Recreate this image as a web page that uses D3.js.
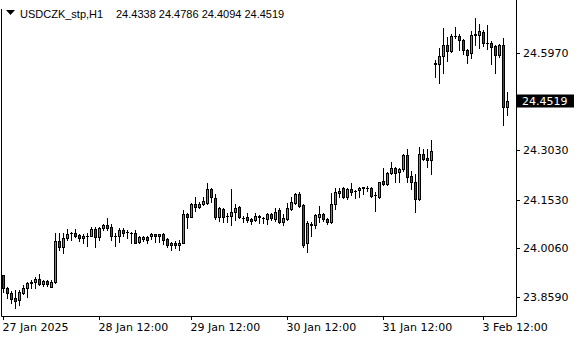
<!DOCTYPE html>
<html>
<head>
<meta charset="utf-8">
<script src="https://cdn.jsdelivr.net/npm/d3@7"></script>
<style>
  body { margin: 0; background: #fff; }
  svg { display: block; }
  text { font-family: "DejaVu Sans"; font-size: 11px; fill: #000; }
  text.header { font-family: "Liberation Sans"; font-size: 11px; }
</style>
</head>
<body>
<svg id="chart" width="580" height="340"></svg>
<script>
/*********************
 * Data (USDCZK H1 bars)
 *********************/
const symbol = 'USDCZK_stp,H1';

const opens = [
  23.926, 23.885, 23.872, 23.857, 23.849, 23.872, 23.885, 23.900, 23.903, 23.913,
  23.897, 23.907, 23.888, 23.904, 24.028, 24.011, 24.037, 24.052, 24.052, 24.047,
  24.037, 24.044, 24.044, 24.064, 24.040, 24.067, 24.077, 24.070, 24.044, 24.044,
  24.062, 24.055, 24.054, 24.054, 24.024, 24.034, 24.040, 24.042, 24.050, 24.042,
  24.050, 24.034, 24.017, 24.023, 24.015, 24.021, 24.110, 24.102, 24.140, 24.132,
  24.139, 24.144, 24.186, 24.158, 24.102, 24.124, 24.105, 24.105, 24.117, 24.132,
  24.097, 24.100, 24.094, 24.092, 24.100, 24.097, 24.094, 24.110, 24.095, 24.122,
  24.087, 24.094, 24.125, 24.144, 24.171, 24.137, 24.021, 24.077, 24.077, 24.102,
  24.109, 24.095, 24.085, 24.139, 24.173, 24.190, 24.162, 24.186, 24.180, 24.182,
  24.188, 24.190, 24.190, 24.168, 24.162, 24.210, 24.200, 24.233, 24.248, 24.236,
  24.245, 24.289, 24.225, 24.207, 24.155, 24.291, 24.280, 24.272, 24.563, 24.565,
  24.587, 24.620, 24.602, 24.648, 24.648, 24.636, 24.605, 24.598, 24.651, 24.651,
  24.661, 24.626, 24.627, 24.618, 24.592, 24.620, 24.4338
];
const highs = [
  23.926, 23.890, 23.878, 23.880, 23.880, 23.895, 23.905, 23.910, 23.920, 23.929,
  23.910, 23.910, 23.910, 24.052, 24.052, 24.052, 24.064, 24.057, 24.064, 24.050,
  24.050, 24.054, 24.072, 24.070, 24.070, 24.080, 24.097, 24.080, 24.052, 24.067,
  24.067, 24.062, 24.057, 24.062, 24.042, 24.044, 24.042, 24.052, 24.050, 24.050,
  24.052, 24.037, 24.026, 24.029, 24.031, 24.122, 24.112, 24.142, 24.161, 24.147,
  24.162, 24.203, 24.188, 24.171, 24.132, 24.127, 24.112, 24.186, 24.140, 24.134,
  24.105, 24.112, 24.098, 24.112, 24.107, 24.102, 24.112, 24.114, 24.127, 24.127,
  24.109, 24.144, 24.162, 24.173, 24.176, 24.140, 24.089, 24.085, 24.109, 24.134,
  24.112, 24.097, 24.173, 24.190, 24.190, 24.193, 24.190, 24.203, 24.182, 24.193,
  24.193, 24.196, 24.192, 24.176, 24.208, 24.250, 24.236, 24.266, 24.253, 24.248,
  24.292, 24.307, 24.240, 24.230, 24.313, 24.306, 24.308, 24.333, 24.575, 24.612,
  24.673, 24.646, 24.653, 24.676, 24.653, 24.639, 24.610, 24.663, 24.703, 24.684,
  24.666, 24.681, 24.633, 24.620, 24.625, 24.643, 24.4786
];
const lows = [
  23.875, 23.855, 23.840, 23.825, 23.835, 23.868, 23.860, 23.887, 23.887, 23.895,
  23.892, 23.893, 23.888, 23.900, 24.001, 23.991, 24.031, 24.031, 24.040, 24.029,
  24.021, 24.013, 24.042, 24.011, 24.031, 24.062, 24.062, 24.031, 24.013, 24.026,
  24.042, 24.037, 24.021, 24.021, 24.023, 24.028, 24.023, 24.034, 24.026, 24.026,
  24.019, 24.011, 24.001, 24.006, 24.001, 24.021, 24.067, 24.102, 24.120, 24.127,
  24.136, 24.140, 24.147, 24.094, 24.090, 24.087, 24.087, 24.077, 24.092, 24.097,
  24.087, 24.087, 24.079, 24.089, 24.084, 24.082, 24.079, 24.092, 24.090, 24.084,
  24.077, 24.092, 24.122, 24.140, 24.132, 24.011, 23.996, 24.042, 24.067, 24.085,
  24.089, 24.079, 24.082, 24.125, 24.162, 24.158, 24.155, 24.168, 24.158, 24.162,
  24.170, 24.180, 24.162, 24.119, 24.158, 24.198, 24.198, 24.232, 24.208, 24.206,
  24.240, 24.208, 24.187, 24.116, 24.152, 24.272, 24.252, 24.232, 24.525, 24.507,
  24.538, 24.572, 24.601, 24.643, 24.605, 24.595, 24.568, 24.583, 24.620, 24.612,
  24.618, 24.610, 24.565, 24.535, 24.585, 24.380, 24.4094
];
const closes = [
  23.885, 23.870, 23.854, 23.848, 23.875, 23.887, 23.902, 23.905, 23.913, 23.897,
  23.907, 23.897, 23.904, 24.028, 24.011, 24.037, 24.050, 24.052, 24.044, 24.037,
  24.044, 24.044, 24.064, 24.040, 24.067, 24.077, 24.067, 24.044, 24.044, 24.062,
  24.054, 24.055, 24.054, 24.023, 24.040, 24.040, 24.031, 24.050, 24.042, 24.050,
  24.031, 24.017, 24.023, 24.015, 24.023, 24.110, 24.102, 24.140, 24.132, 24.140,
  24.149, 24.186, 24.161, 24.102, 24.127, 24.102, 24.105, 24.115, 24.127, 24.100,
  24.097, 24.092, 24.090, 24.104, 24.104, 24.097, 24.110, 24.097, 24.115, 24.087,
  24.097, 24.127, 24.146, 24.171, 24.135, 24.016, 24.082, 24.080, 24.107, 24.109,
  24.094, 24.085, 24.139, 24.176, 24.180, 24.162, 24.186, 24.178, 24.180, 24.190,
  24.192, 24.190, 24.163, 24.168, 24.206, 24.200, 24.233, 24.248, 24.235, 24.246,
  24.289, 24.223, 24.208, 24.156, 24.291, 24.277, 24.272, 24.300, 24.567, 24.587,
  24.620, 24.602, 24.648, 24.648, 24.636, 24.605, 24.590, 24.651, 24.653, 24.663,
  24.628, 24.626, 24.615, 24.592, 24.620, 24.4338, 24.4519
];

const priceTicks = [23.8590, 24.0060, 24.1530, 24.3030, 24.5970];
const timeTickBars = [0, 24, 47, 71, 95, 120];
const timeTickLabels = ['27 Jan 2025', '28 Jan 12:00', '29 Jan 12:00', '30 Jan 12:00', '31 Jan 12:00', '3 Feb 12:00'];

const upColor = '#22c322';
const downColor = '#d11010';

/*********************
 * Scales
 *********************/
const plotRight = 516;
const plotBottom = 316;

const x = d3.scaleLinear().domain([0, opens.length - 1]).range([3, 3 + 4 * (opens.length - 1)]);
const y = d3.scaleLinear().domain([23.859, 24.597]).range([297, 53]);

const bars = opens.map((o, i) => ({i, o, h: highs[i], l: lows[i], c: closes[i]}));
const lastBar = bars[bars.length - 1];

const svg = d3.select('#chart');

/*********************
 * Frame
 *********************/
svg.append('path')
  .attr('d', `M1.5,9 V${plotBottom + 0.5} H${plotRight + 0.5} V0`)
  .attr('fill', 'none')
  .attr('stroke', '#000');

/*********************
 * Candles
 *********************/
const g = svg.append('g');

// wicks
g.selectAll('line.wick')
  .data(bars)
  .enter()
  .append('line')
  .attr('class', 'wick')
  .attr('x1', d => x(d.i) + 0.5)
  .attr('x2', d => x(d.i) + 0.5)
  .attr('y1', d => Math.round(y(d.h)))
  .attr('y2', d => Math.round(y(d.l)) + 1)
  .attr('stroke', '#000');

// bodies
bars.forEach(d => {
  const yo = Math.round(y(d.o));
  const yc = Math.round(y(d.c));
  const top = Math.min(yo, yc);
  const bottom = Math.max(yo, yc);
  const cx = x(d.i);
  if (bottom - top < 1) {
    g.append('line')
      .attr('x1', cx - 1).attr('x2', cx + 2)
      .attr('y1', top + 0.5).attr('y2', top + 0.5)
      .attr('stroke', '#000');
  } else {
    g.append('rect')
      .attr('x', cx - 0.5)
      .attr('y', top + 0.5)
      .attr('width', 2)
      .attr('height', bottom - top)
      .attr('fill', d.c > d.o ? upColor : downColor)
      .attr('stroke', '#000');
  }
});

/*********************
 * Price axis
 *********************/
const yAxis = svg.append('g');
priceTicks.forEach(p => {
  const py = Math.round(y(p)) + 0.5;
  yAxis.append('line')
    .attr('x1', plotRight + 1).attr('x2', plotRight + 4)
    .attr('y1', py).attr('y2', py)
    .attr('stroke', '#000');
  yAxis.append('text')
    .attr('x', plotRight + 7)
    .attr('y', py)
    .attr('dy', '0.36em')
    .text(p.toFixed(4));
});

// current price marker
const ly = Math.round(y(lastBar.c)) + 0.5;
yAxis.append('line')
  .attr('x1', plotRight + 1).attr('x2', plotRight + 4)
  .attr('y1', ly).attr('y2', ly)
  .attr('stroke', '#000');
yAxis.append('rect')
  .attr('x', plotRight + 1)
  .attr('y', ly - 7)
  .attr('width', 57)
  .attr('height', 13)
  .attr('fill', '#000');
yAxis.append('text')
  .attr('x', plotRight + 6)
  .attr('y', ly)
  .attr('dy', '0.36em')
  .style('fill', '#fff')
  .text(lastBar.c.toFixed(4));

/*********************
 * Time axis
 *********************/
const xAxis = svg.append('g');
timeTickBars.forEach((b, k) => {
  const tx = x(b) + 0.5;
  xAxis.append('line')
    .attr('x1', tx).attr('x2', tx)
    .attr('y1', plotBottom + 1).attr('y2', plotBottom + 4)
    .attr('stroke', '#000');
  xAxis.append('text')
    .attr('x', tx - 1)
    .attr('y', 331)
    .text(timeTickLabels[k]);
});

/*********************
 * Header
 *********************/
svg.append('path')
  .attr('d', 'M6,10 L15,10 L10.5,15 Z')
  .attr('fill', '#000');
svg.append('text')
  .attr('class', 'header')
  .attr('x', 20)
  .attr('y', 18)
  .text(symbol);
svg.append('text')
  .attr('class', 'header')
  .attr('x', 116)
  .attr('y', 18)
  .text([lastBar.o, lastBar.h, lastBar.l, lastBar.c].map(v => v.toFixed(4)).join(' '));
</script>
</body>
</html>
